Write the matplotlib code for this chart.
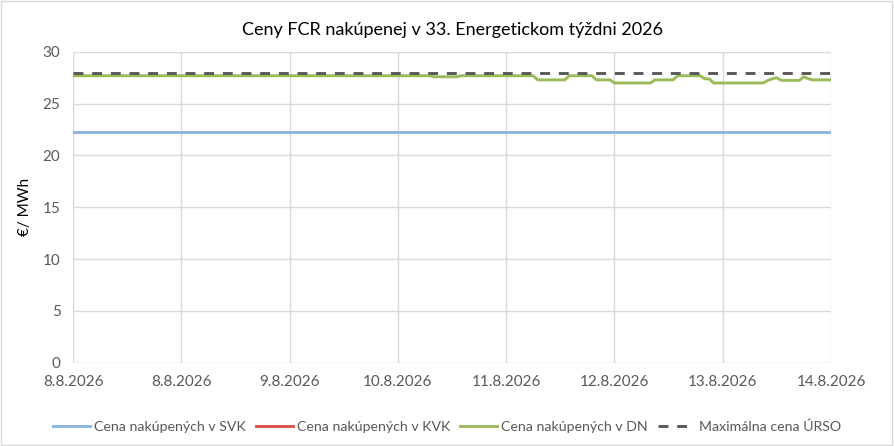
import numpy as np
import matplotlib
matplotlib.use('Agg')
import matplotlib.pyplot as plt
from matplotlib.patches import Rectangle

plt.rcParams['font.family'] = ['Lato', 'DejaVu Sans']

# Data (hourly, 8.8.2026 - 14.8.2026)
tick_labels = ['8.8.2026', '8.8.2026', '9.8.2026', '10.8.2026',
               '11.8.2026', '12.8.2026', '13.8.2026', '14.8.2026']
svk = [22.25] * 169
kvk = [np.nan] * 169
dn = ([27.7] * 80 + [27.6] * 6 + [27.7] * 17 + [27.3] * 7 + [27.7] * 6
      + [27.3] * 4 + [27.0] * 9 + [27.3] * 5 + [27.7] * 6 + [27.4] * 2
      + [27.0] * 12 + [27.25, 27.4, 27.5] + [27.25] * 5 + [27.6, 27.4]
      + [27.3] * 5)
ursomax = [28.0] * 169

fig = plt.figure(figsize=(8.94, 4.46), dpi=100)
ax = fig.add_axes([0.0817, 0.187, 0.8478, 0.6966])

x = np.arange(len(svk))
ax.plot(x, svk, color='#8db4e2', lw=2.1, label='Cena nakúpených v SVK')
ax.plot(x, kvk, color='#d9534f', lw=2.1, label='Cena nakúpených v KVK')
ax.plot(x, dn, color='#9bbb59', lw=2.1, label='Cena nakúpených v DN')
ax.plot(x, ursomax, color='#595959', lw=2.1, dashes=(3.4, 3),
        label='Maximálna cena ÚRSO')

ax.set_xlim(0, 168)
ax.set_ylim(0, 30)
ax.set_yticks(range(0, 31, 5))
ax.set_xticks(range(0, 169, 24))
ax.set_xticklabels(tick_labels)
ax.grid(True, color='#d9d9d9', lw=1)
ax.set_axisbelow(True)
for s in ax.spines.values():
    s.set_visible(False)
ax.tick_params(length=0, labelsize=11, colors='#595959', pad=9)

ax.set_ylabel('€/ MWh', fontsize=11, color='#000000', labelpad=8)
ax.set_title('Ceny FCR nakúpenej v 33. Energetickom týždni 2026',
             fontsize=13, pad=12)

fig.legend(loc='lower center', bbox_to_anchor=(0.5, 0.0), ncol=4,
           frameon=False, fontsize=10.2, handlelength=2.6,
           handletextpad=0.3, columnspacing=0.7, labelcolor='#595959')

fig.add_artist(Rectangle((0.001, 0.002), 0.997, 0.995, transform=fig.transFigure,
                         fill=False, edgecolor='#d9d9d9', lw=1))

fig.savefig('out.png', dpi=100)
